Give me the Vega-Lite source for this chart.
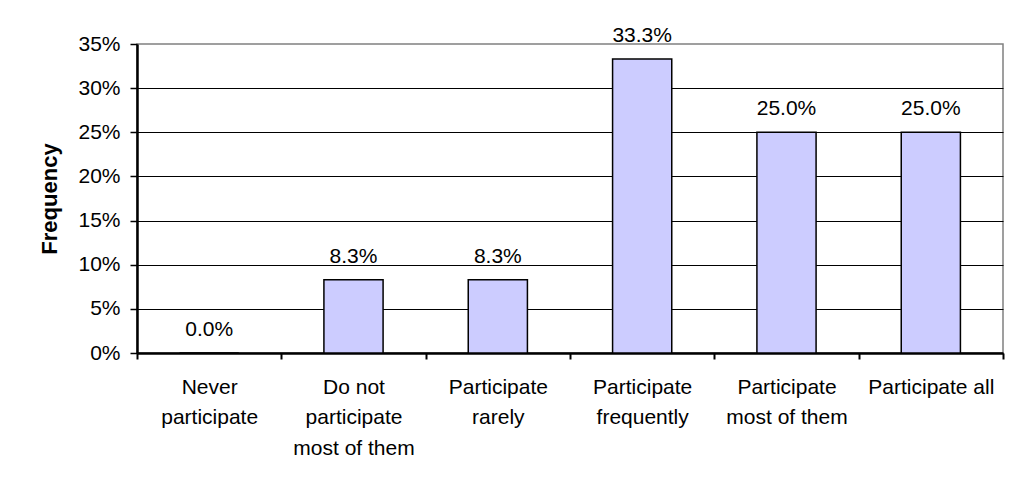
{
  "$schema": "https://vega.github.io/schema/vega-lite/v6.json",
  "autosize": "none",
  "width": 866,
  "height": 309,
  "padding": {"left": 137, "top": 44, "right": 9, "bottom": 131},
  "background": "white",
  "config": {
    "font": "Liberation Sans",
    "view": {"stroke": "#808080", "strokeWidth": 1.5},
    "axis": {"labelColor": "#000", "titleColor": "#000", "labelFontWeight": "normal"}
  },
  "data": {
    "values": [
      {"response": "Never|participate", "share": 0.0},
      {"response": "Do not|participate|most of them", "share": 0.083},
      {"response": "Participate|rarely", "share": 0.083},
      {"response": "Participate|frequently", "share": 0.333},
      {"response": "Participate|most of them", "share": 0.25},
      {"response": "Participate all", "share": 0.25}
    ]
  },
  "encoding": {
    "x": {
      "field": "response",
      "type": "nominal",
      "sort": null,
      "scale": {"paddingInner": 0, "paddingOuter": 0},
      "axis": {
        "title": null,
        "labelAngle": 0,
        "labelExpr": "split(datum.label, '|')",
        "labelFontSize": 21,
        "labelLineHeight": 30.5,
        "labelPadding": 17,
        "labelLimit": 200,
        "tickBand": "extent",
        "tickColor": "#000",
        "tickWidth": 2,
        "tickSize": 6,
        "domainColor": "#000",
        "domainWidth": 2.5,
        "grid": false
      }
    },
    "y": {
      "field": "share",
      "type": "quantitative",
      "scale": {"domain": [0, 0.35], "nice": false},
      "axis": {
        "title": "Frequency",
        "titleFontSize": 22,
        "titleFontWeight": "bold",
        "titlePadding": 16,
        "values": [0, 0.05, 0.1, 0.15, 0.2, 0.25, 0.3, 0.35],
        "format": ".0%",
        "labelFontSize": 21,
        "labelPadding": 10,
        "tickColor": "#000",
        "tickWidth": 1.5,
        "tickSize": 7,
        "domainColor": "#000",
        "domainWidth": 2.5,
        "grid": true,
        "gridColor": {"condition": {"test": "datum.value >= 0.349", "value": "transparent"}, "value": "#000"},
        "gridWidth": 1,
        "gridOpacity": 1
      }
    }
  },
  "layer": [
    {
      "mark": {"type": "bar", "width": {"band": 0.41}, "fill": "#CCCCFF", "stroke": "#000", "strokeWidth": 1.5}
    },
    {
      "mark": {"type": "text", "baseline": "alphabetic", "dy": -17, "fontSize": 21, "color": "#000"},
      "encoding": {
        "text": {"field": "share", "type": "quantitative", "format": ".1%"}
      }
    }
  ]
}
